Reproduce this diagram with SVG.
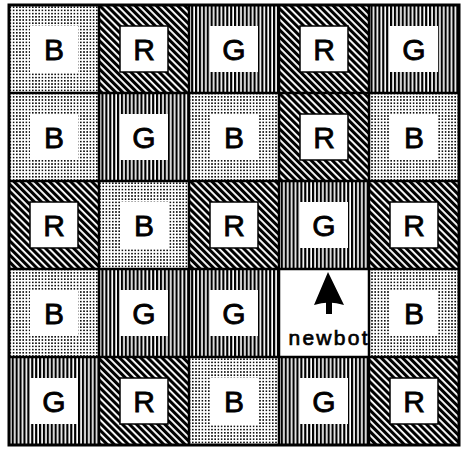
<svg xmlns="http://www.w3.org/2000/svg" width="461" height="449" viewBox="0 0 461 449">
<defs>
<pattern id="dots" width="3.2" height="3.2" patternUnits="userSpaceOnUse">
<rect width="3.2" height="3.2" fill="#fff"/>
<rect x="0" y="0" width="1.6" height="1.6" fill="#111"/>
</pattern>
<pattern id="hatch" width="5" height="5" patternUnits="userSpaceOnUse" patternTransform="rotate(45)">
<rect width="5" height="5" fill="#000"/>
<rect x="0" y="0" width="5" height="1.9" fill="#fff"/>
</pattern>
<pattern id="vstripe" width="3.9" height="10" patternUnits="userSpaceOnUse">
<rect width="3.9" height="10" fill="#fff"/>
<rect x="0" y="0" width="2.2" height="10" fill="#000"/>
</pattern>
</defs>
<style>
.B{fill:url(#dots)}
.R{fill:url(#hatch)}
.G{fill:url(#vstripe)}
.in{fill:#fff}
.inR{fill:#fff;stroke:#000;stroke-width:1.5}
.lbl{font-family:"Liberation Sans",Arial,Helvetica,sans-serif;font-size:30px;fill:#000;text-anchor:middle;stroke:#000;stroke-width:0.8}
.grid{stroke:#000;stroke-width:2.5;fill:none}
</style>
<rect width="461" height="449" fill="#fff"/>

<g id="c00"><rect class="B" x="9" y="5" width="90" height="88"/><rect class="in" x="30" y="26" width="48" height="46"/><text class="lbl" x="54" y="60">B</text></g>
<g id="c10"><rect class="R" x="99" y="5" width="90" height="88"/><rect class="inR" x="120" y="26" width="48" height="46"/><text class="lbl" x="144" y="60">R</text></g>
<g id="c20"><rect class="G" x="189" y="5" width="90" height="88"/><rect class="in" x="210" y="26" width="48" height="46"/><text class="lbl" x="234" y="60">G</text></g>
<g id="c30"><rect class="R" x="279" y="5" width="90" height="88"/><rect class="inR" x="300" y="26" width="48" height="46"/><text class="lbl" x="324" y="60">R</text></g>
<g id="c40"><rect class="G" x="369" y="5" width="90" height="88"/><rect class="in" x="390" y="26" width="48" height="46"/><text class="lbl" x="414" y="60">G</text></g>

<g id="c01"><rect class="B" x="9" y="93" width="90" height="88"/><rect class="in" x="30" y="114" width="48" height="46"/><text class="lbl" x="54" y="148">B</text></g>
<g id="c11"><rect class="G" x="99" y="93" width="90" height="88"/><rect class="in" x="120" y="114" width="48" height="46"/><text class="lbl" x="144" y="148">G</text></g>
<g id="c21"><rect class="B" x="189" y="93" width="90" height="88"/><rect class="in" x="210" y="114" width="48" height="46"/><text class="lbl" x="234" y="148">B</text></g>
<g id="c31"><rect class="R" x="279" y="93" width="90" height="88"/><rect class="inR" x="300" y="114" width="48" height="46"/><text class="lbl" x="324" y="148">R</text></g>
<g id="c41"><rect class="B" x="369" y="93" width="90" height="88"/><rect class="in" x="390" y="114" width="48" height="46"/><text class="lbl" x="414" y="148">B</text></g>

<g id="c02"><rect class="R" x="9" y="181" width="90" height="88"/><rect class="inR" x="30" y="202" width="48" height="46"/><text class="lbl" x="54" y="236">R</text></g>
<g id="c12"><rect class="B" x="99" y="181" width="90" height="88"/><rect class="in" x="120" y="202" width="48" height="46"/><text class="lbl" x="144" y="236">B</text></g>
<g id="c22"><rect class="R" x="189" y="181" width="90" height="88"/><rect class="inR" x="210" y="202" width="48" height="46"/><text class="lbl" x="234" y="236">R</text></g>
<g id="c32"><rect class="G" x="279" y="181" width="90" height="88"/><rect class="in" x="300" y="202" width="48" height="46"/><text class="lbl" x="324" y="236">G</text></g>
<g id="c42"><rect class="R" x="369" y="181" width="90" height="88"/><rect class="inR" x="390" y="202" width="48" height="46"/><text class="lbl" x="414" y="236">R</text></g>

<g id="c03"><rect class="B" x="9" y="269" width="90" height="88"/><rect class="in" x="30" y="290" width="48" height="46"/><text class="lbl" x="54" y="324">B</text></g>
<g id="c13"><rect class="G" x="99" y="269" width="90" height="88"/><rect class="in" x="120" y="290" width="48" height="46"/><text class="lbl" x="144" y="324">G</text></g>
<g id="c23"><rect class="G" x="189" y="269" width="90" height="88"/><rect class="in" x="210" y="290" width="48" height="46"/><text class="lbl" x="234" y="324">G</text></g>
<g id="newbot"><rect fill="#fff" x="279" y="269" width="90" height="88"/><path d="M328,272 L314,305 Q329,300 344,305 Z" fill="#000"/><rect x="326" y="302" width="6" height="12" fill="#000"/><text x="328" y="345" font-family="'Liberation Sans',Arial,sans-serif" font-size="21" text-anchor="middle" textLength="79" lengthAdjust="spacing" stroke="#000" stroke-width="0.7">newbot</text></g>
<g id="c43"><rect class="B" x="369" y="269" width="90" height="88"/><rect class="in" x="390" y="290" width="48" height="46"/><text class="lbl" x="414" y="324">B</text></g>

<g id="c04"><rect class="G" x="9" y="357" width="90" height="88"/><rect class="in" x="30" y="378" width="48" height="46"/><text class="lbl" x="54" y="412">G</text></g>
<g id="c14"><rect class="R" x="99" y="357" width="90" height="88"/><rect class="inR" x="120" y="378" width="48" height="46"/><text class="lbl" x="144" y="412">R</text></g>
<g id="c24"><rect class="B" x="189" y="357" width="90" height="88"/><rect class="in" x="210" y="378" width="48" height="46"/><text class="lbl" x="234" y="412">B</text></g>
<g id="c34"><rect class="G" x="279" y="357" width="90" height="88"/><rect class="in" x="300" y="378" width="48" height="46"/><text class="lbl" x="324" y="412">G</text></g>
<g id="c44"><rect class="R" x="369" y="357" width="90" height="88"/><rect class="inR" x="390" y="378" width="48" height="46"/><text class="lbl" x="414" y="412">R</text></g>

<g id="connectors">
<path class="grid" d="M99,5V445M189,5V445M279,5V445M369,5V445M9,93H459M9,181H459M9,269H459M9,357H459"/>
<rect x="9" y="5" width="450" height="440" fill="none" stroke="#000" stroke-width="3"/>
</g>
</svg>
